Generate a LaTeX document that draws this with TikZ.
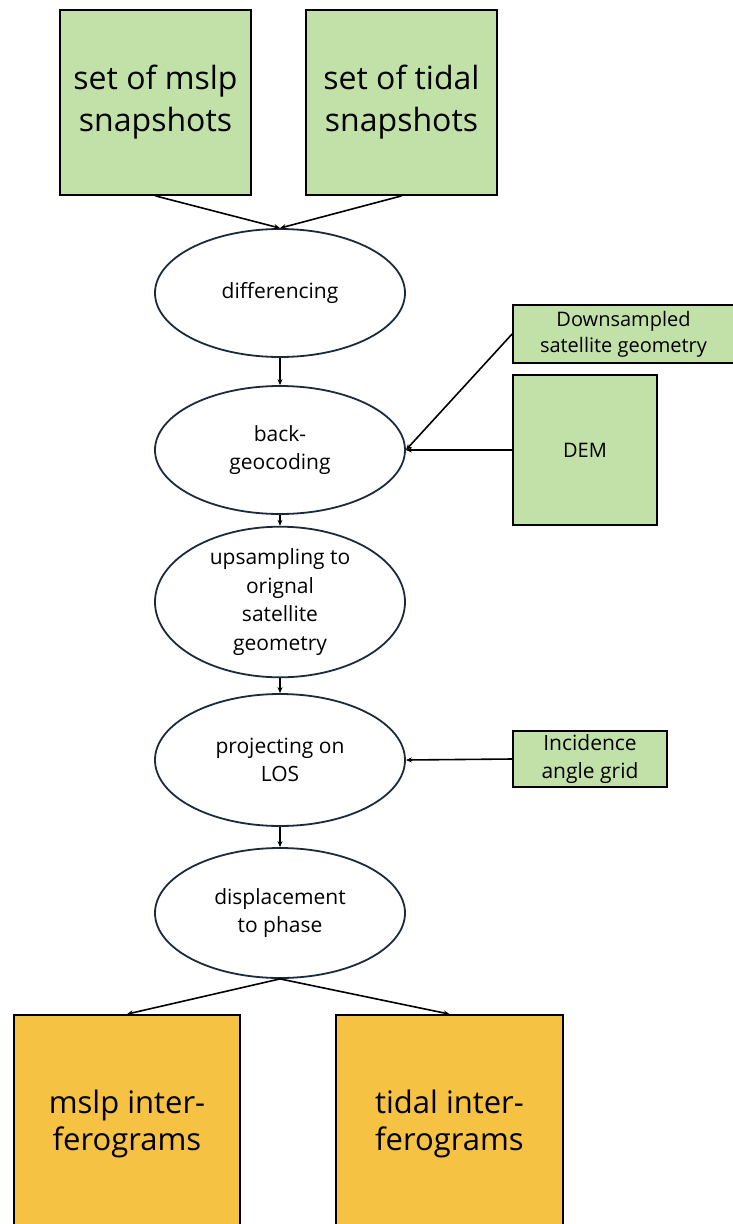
\documentclass[tikz,border=0pt]{standalone}
\usepackage{fontspec}
\setmainfont{Open Sans}
\usepackage{xcolor}
\usetikzlibrary{arrows.meta,shapes.geometric}

\definecolor{boxgreen}{HTML}{C1E1A9}
\definecolor{boxorange}{HTML}{F5C243}
\definecolor{ellnavy}{HTML}{1B2B3B}

\begin{document}
\begin{tikzpicture}[x=1pt,y=-1pt,
  greenbox/.style={draw=black,line width=1.8pt,fill=boxgreen,align=center,inner sep=0pt},
  orangebox/.style={draw=black,line width=1.8pt,fill=boxorange,align=center,inner sep=0pt},
  stepnode/.style={ellipse,draw=ellnavy,line width=1.8pt,fill=white,minimum width=250pt,minimum height=128pt,align=center,inner sep=0pt,font=\fontsize{21}{28.5}\selectfont},
  flow/.style={-{Stealth[length=6pt,width=5pt]},line width=1.6pt}]
\useasboundingbox (0,0) rectangle (733,1224);

% inputs
\node[greenbox,minimum width=191pt,minimum height=185pt,font=\fontsize{32}{42}\selectfont] (mslp) at (155.5,102.5) {set of mslp\\snapshots};
\node[greenbox,minimum width=191pt,minimum height=185pt,font=\fontsize{32}{42}\selectfont] (tidal) at (401.5,102.5) {set of tidal\\snapshots};

% processing steps
\node[stepnode] (diff) at (280,293) {differencing};
\node[stepnode] (back) at (280,450) {back-\\geocoding};
\node[stepnode,minimum height=122pt] (up) at (280,602) {upsampling to\\orignal\\satellite\\geometry};
\node[stepnode,minimum height=132pt] (proj) at (280,760) {projecting on\\LOS};
\node[stepnode,minimum height=130pt] (disp) at (280,913) {displacement\\to phase};

% auxiliary inputs
\node[greenbox,minimum width=221pt,minimum height=58pt,font=\fontsize{20}{26}\selectfont] (down) at (623.5,334) {Downsampled\\satellite geometry};
\node[greenbox,minimum width=144pt,minimum height=150pt,font=\fontsize{20}{26}\selectfont] (dem) at (585,450) {DEM};
\node[greenbox,minimum width=154pt,minimum height=56pt,font=\fontsize{21}{28}\selectfont] (inc) at (590,759) {Incidence\\angle grid};

% outputs
\node[orangebox,minimum width=226pt,minimum height=217pt,font=\fontsize{31}{37}\selectfont] (outm) at (127,1123.5) {mslp inter-\\ferograms};
\node[orangebox,minimum width=227pt,minimum height=217pt,font=\fontsize{31}{37}\selectfont] (outt) at (449.5,1123.5) {tidal inter-\\ferograms};

\draw[flow] (mslp.south) -- (diff.north);
\draw[flow] (tidal.south) -- (diff.north);
\draw[flow] (diff) -- (back);
\draw[flow] (back) -- (up);
\draw[flow] (up) -- (proj);
\draw[flow] (proj) -- (disp);
\draw[flow] (down.west) -- (back.east);
\draw[flow] (dem.west) -- (back.east);
\draw[flow] (inc.west) -- (proj.east);
\draw[flow] (disp.south) -- (outm.north);
\draw[flow] (disp.south) -- (outt.north);

\end{tikzpicture}
\end{document}
